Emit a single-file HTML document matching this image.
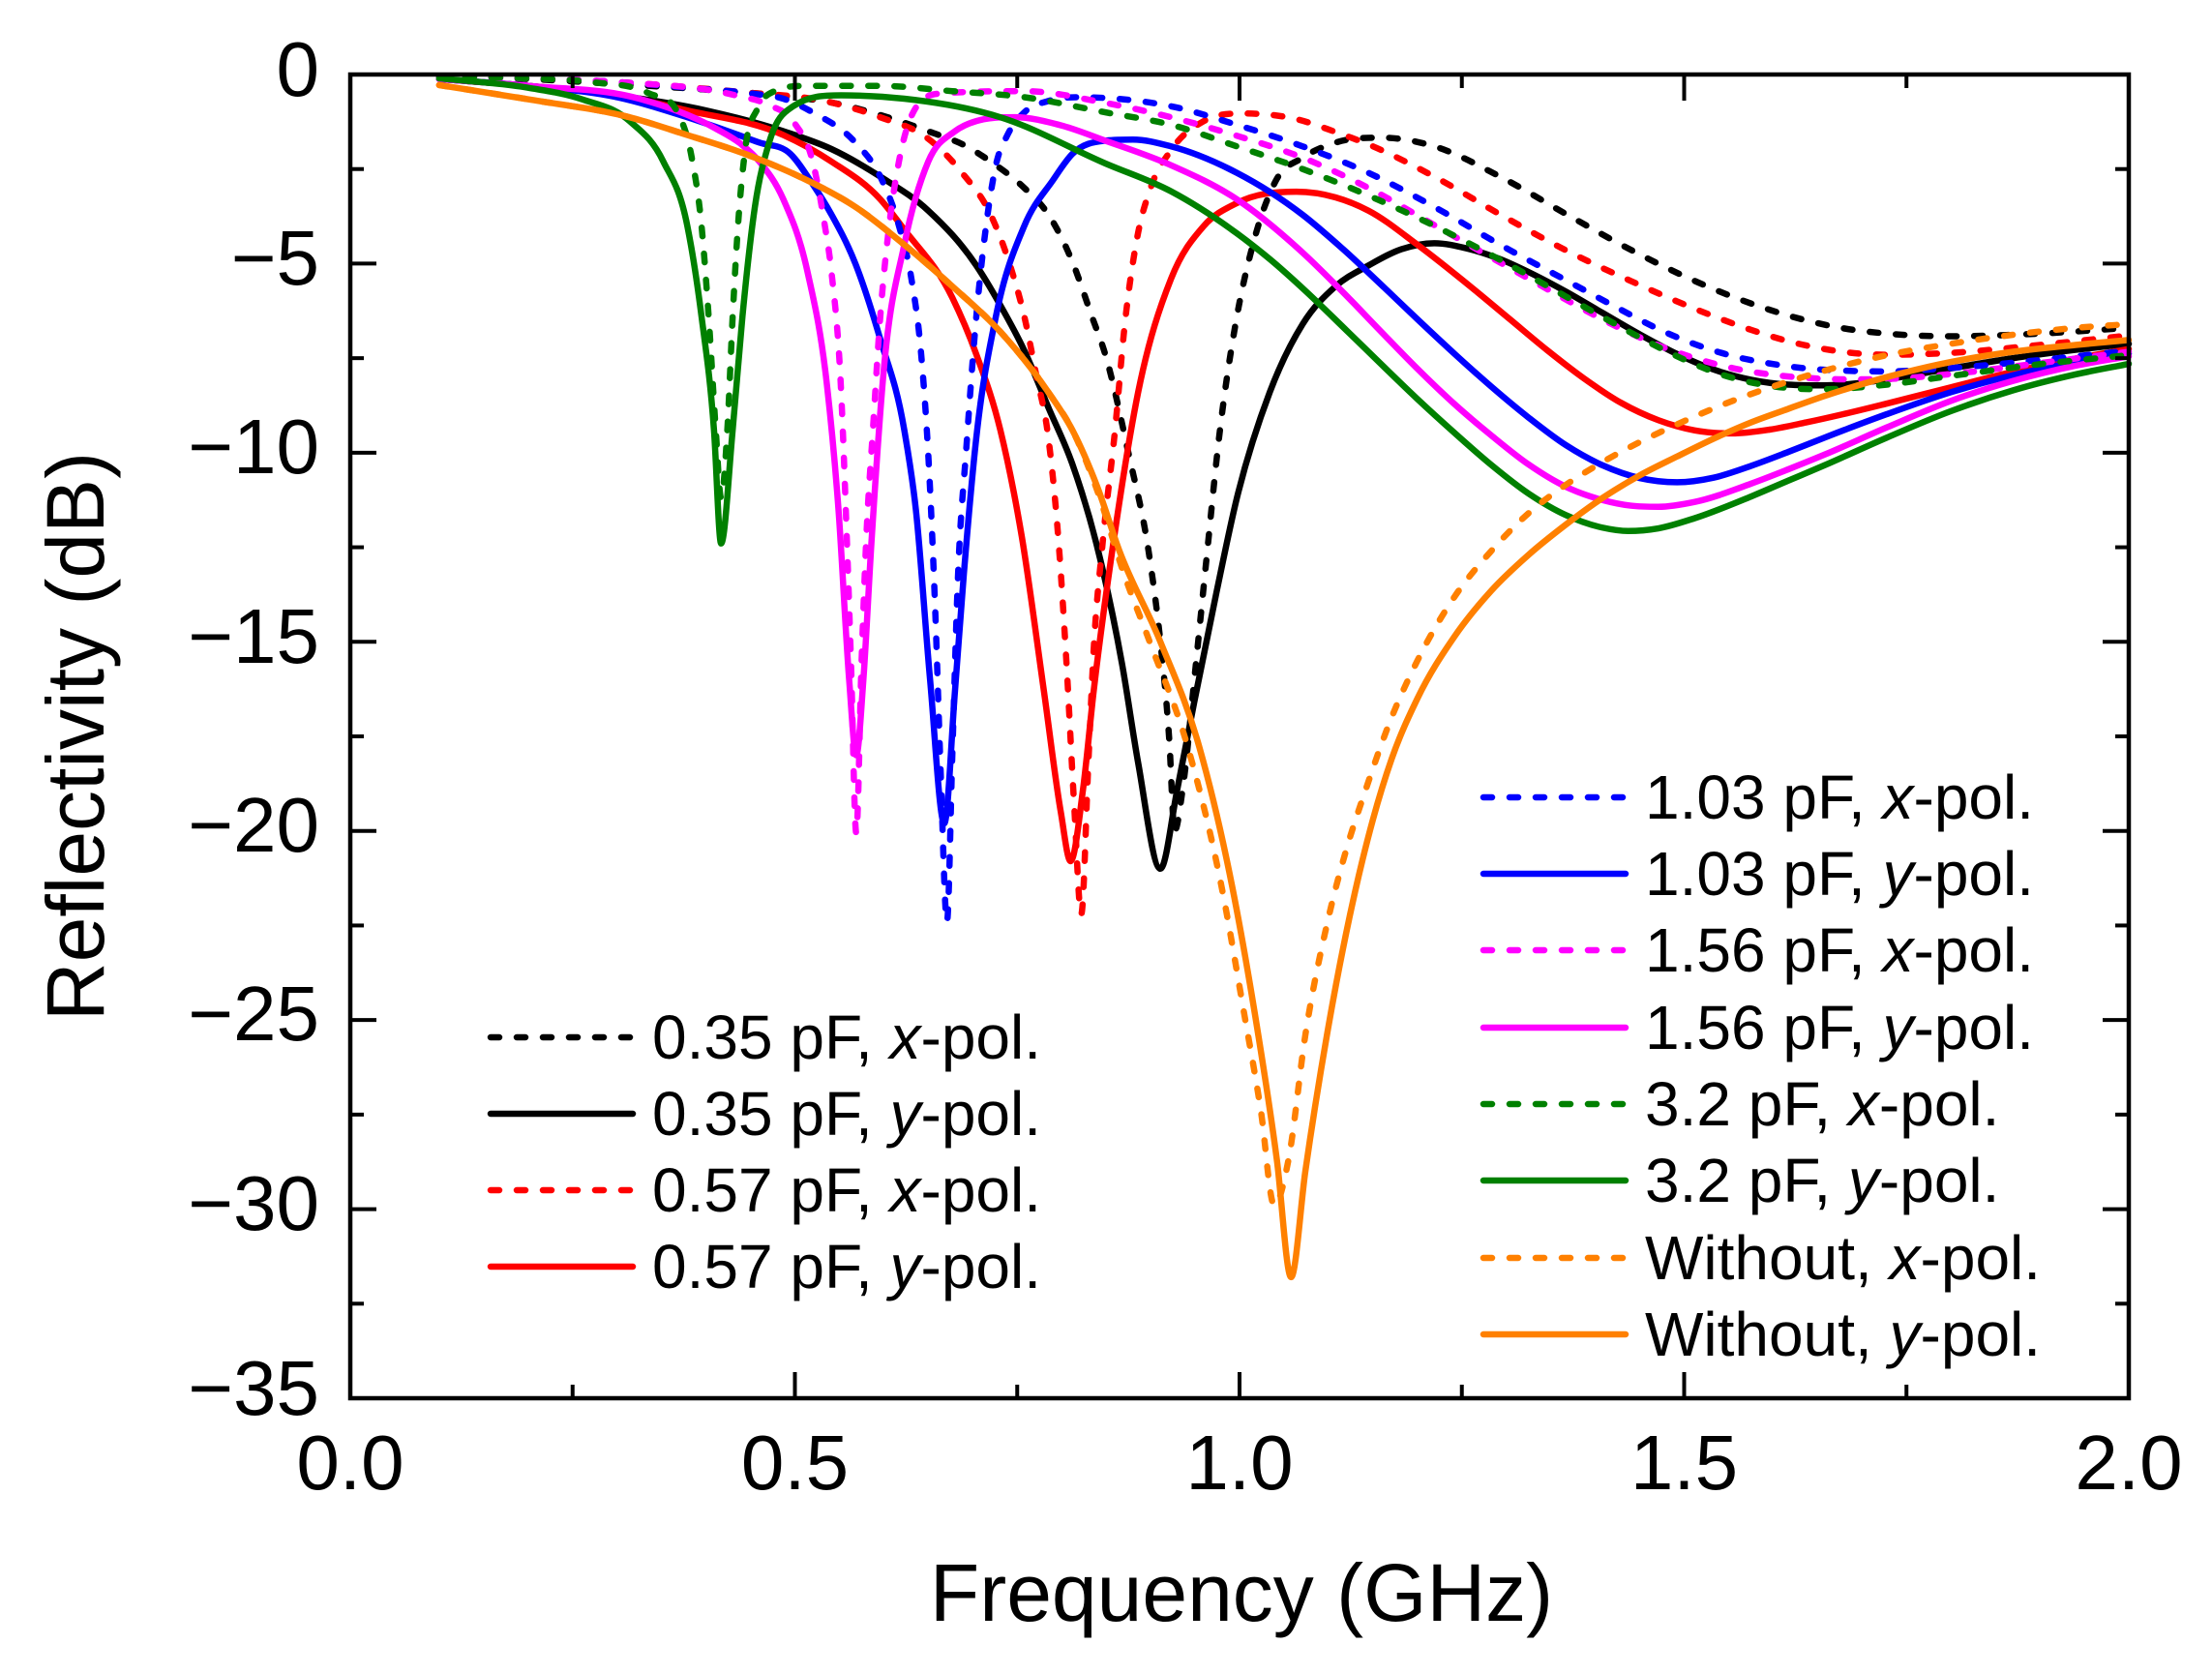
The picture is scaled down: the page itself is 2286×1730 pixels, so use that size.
<!DOCTYPE html>
<html>
<head>
<meta charset="utf-8">
<style>
  html, body { margin: 0; padding: 0; background: #ffffff; }
  svg { display: block; }
  text { font-family: "Liberation Sans", Arial, sans-serif; fill: #000; }
</style>
</head>
<body>
<svg id="chart" xmlns="http://www.w3.org/2000/svg" width="2286" height="1730" viewBox="0 0 2286 1730">
  <rect x="0" y="0" width="2286" height="1730" fill="#ffffff"/>
  <g id="curves" fill="none" stroke-linejoin="round"></g>

  <!-- frame -->
  <rect x="362" y="77" width="1838" height="1368" fill="none" stroke="#000" stroke-width="4.5"/>

  <!-- ticks -->
  <g stroke="#000" stroke-width="4" id="ticks"></g>

  <!-- y tick labels -->
  <g font-size="80" text-anchor="end">
    <text x="330" y="99">0</text>
    <text x="330" y="294">−5</text>
    <text x="330" y="489">−10</text>
    <text x="330" y="685">−15</text>
    <text x="330" y="880">−20</text>
    <text x="330" y="1075">−25</text>
    <text x="330" y="1271">−30</text>
    <text x="330" y="1462">−35</text>
  </g>

  <!-- x tick labels -->
  <g font-size="80" text-anchor="middle">
    <text x="362" y="1539">0.0</text>
    <text x="821.5" y="1539">0.5</text>
    <text x="1281" y="1539">1.0</text>
    <text x="1740.5" y="1539">1.5</text>
    <text x="2200" y="1539">2.0</text>
  </g>

  <!-- axis titles -->
  <text x="1283" y="1675" font-size="84" text-anchor="middle">Frequency (GHz)</text>
  <text transform="translate(107,761) rotate(-90)" font-size="84" text-anchor="middle">Reflectivity (dB)</text>

  <!-- left legend -->
  <g stroke-width="6.5" stroke-linecap="round" fill="none">
    <line x1="507" y1="1072" x2="654" y2="1072" stroke="#000000" stroke-dasharray="9 18"/>
    <line x1="507" y1="1151" x2="654" y2="1151" stroke="#000000"/>
    <line x1="507" y1="1230" x2="654" y2="1230" stroke="#ff0000" stroke-dasharray="9 18"/>
    <line x1="507" y1="1309" x2="654" y2="1309" stroke="#ff0000"/>
  </g>
  <g font-size="64">
    <text x="674" y="1094">0.35 pF, <tspan font-style="italic">x</tspan>-pol.</text>
    <text x="674" y="1173">0.35 pF, <tspan font-style="italic">y</tspan>-pol.</text>
    <text x="674" y="1252">0.57 pF, <tspan font-style="italic">x</tspan>-pol.</text>
    <text x="674" y="1331">0.57 pF, <tspan font-style="italic">y</tspan>-pol.</text>
  </g>

  <!-- right legend -->
  <g stroke-width="6.5" stroke-linecap="round" fill="none">
    <line x1="1533" y1="824" x2="1680" y2="824" stroke="#0000ff" stroke-dasharray="9 18"/>
    <line x1="1533" y1="903" x2="1680" y2="903" stroke="#0000ff"/>
    <line x1="1533" y1="982" x2="1680" y2="982" stroke="#ff00ff" stroke-dasharray="9 18"/>
    <line x1="1533" y1="1062" x2="1680" y2="1062" stroke="#ff00ff"/>
    <line x1="1533" y1="1141" x2="1680" y2="1141" stroke="#008000" stroke-dasharray="9 18"/>
    <line x1="1533" y1="1220" x2="1680" y2="1220" stroke="#008000"/>
    <line x1="1533" y1="1300" x2="1680" y2="1300" stroke="#ff8000" stroke-dasharray="9 18"/>
    <line x1="1533" y1="1379" x2="1680" y2="1379" stroke="#ff8000"/>
  </g>
  <g font-size="64">
    <text x="1700" y="846">1.03 pF, <tspan font-style="italic">x</tspan>-pol.</text>
    <text x="1700" y="925">1.03 pF, <tspan font-style="italic">y</tspan>-pol.</text>
    <text x="1700" y="1004">1.56 pF, <tspan font-style="italic">x</tspan>-pol.</text>
    <text x="1700" y="1084">1.56 pF, <tspan font-style="italic">y</tspan>-pol.</text>
    <text x="1700" y="1163">3.2 pF, <tspan font-style="italic">x</tspan>-pol.</text>
    <text x="1700" y="1242">3.2 pF, <tspan font-style="italic">y</tspan>-pol.</text>
    <text x="1700" y="1322">Without, <tspan font-style="italic">x</tspan>-pol.</text>
    <text x="1700" y="1401">Without, <tspan font-style="italic">y</tspan>-pol.</text>
  </g>
</svg>

<script>
(function(){
  var NS = "http://www.w3.org/2000/svg";
  function X(f){ return 362 + f*919; }
  function Y(d){ return 77 - d*39.086; }

  // ticks
  var tg = document.getElementById('ticks');
  function ln(x1,y1,x2,y2){
    var l = document.createElementNS(NS,'line');
    l.setAttribute('x1',x1); l.setAttribute('y1',y1);
    l.setAttribute('x2',x2); l.setAttribute('y2',y2);
    tg.appendChild(l);
  }
  for (var i=1;i<8;i++){
    var f = i*0.25, x = X(f), L = (i%2===0)?27:14;
    ln(x,1445,x,1445-L); ln(x,77,x,77+L);
  }
  for (var j=1;j<14;j++){
    var d = -j*2.5, y = Y(d), L2 = (j%2===0)?27:14;
    ln(362,y,362+L2,y); ln(2200,y,2200-L2,y);
  }

  var curves = [
    {c:'#000000', dash:true, p:[[0.1,-0.05],[0.2,-0.12],[0.3,-0.25],[0.4,-0.4],[0.5,-0.6],[0.541,-0.74],[0.6,-1.1],[0.65,-1.5],[0.693,-1.9],[0.72,-2.3],[0.758,-3.0],[0.785,-3.7],[0.812,-4.95],[0.834,-6.4],[0.849,-7.4],[0.875,-10],[0.899,-12.8],[0.911,-15],[0.921,-17.6],[0.927,-20.0],[0.936,-18.9],[0.95,-15.8],[0.962,-13],[0.978,-9.4],[0.997,-6.4],[1.015,-4.5],[1.041,-2.8],[1.071,-2.2],[1.108,-1.8],[1.16,-1.67],[1.219,-1.9],[1.293,-2.7],[1.368,-3.7],[1.442,-4.66],[1.516,-5.5],[1.554,-5.87],[1.596,-6.22],[1.637,-6.5],[1.679,-6.71],[1.728,-6.85],[1.8,-6.92],[1.9,-6.85],[2.0,-6.7]]},
    {c:'#000000', dash:false, p:[[0.1,-0.12],[0.2,-0.3],[0.3,-0.55],[0.4,-0.95],[0.487,-1.5],[0.541,-1.97],[0.596,-2.7],[0.65,-3.6],[0.704,-5.05],[0.731,-6.1],[0.758,-7.3],[0.785,-8.8],[0.812,-10.3],[0.839,-12.4],[0.868,-15.6],[0.886,-18.2],[0.911,-21.0],[0.93,-18.9],[0.949,-16.6],[0.974,-13.7],[0.997,-11.2],[1.034,-8.4],[1.071,-6.6],[1.108,-5.6],[1.145,-5.05],[1.182,-4.62],[1.219,-4.46],[1.256,-4.6],[1.293,-4.88],[1.33,-5.28],[1.367,-5.74],[1.408,-6.3],[1.45,-6.87],[1.492,-7.39],[1.533,-7.8],[1.575,-8.07],[1.617,-8.2],[1.658,-8.22],[1.7,-8.15],[1.728,-8.06],[1.8,-7.77],[1.87,-7.5],[1.94,-7.28],[2.0,-7.12]]},
    {c:'#ff0000', dash:true, p:[[0.1,-0.05],[0.2,-0.1],[0.3,-0.2],[0.433,-0.45],[0.541,-0.74],[0.596,-1.13],[0.65,-1.7],[0.688,-2.6],[0.72,-3.7],[0.742,-5.05],[0.758,-6.4],[0.771,-7.9],[0.785,-9.6],[0.796,-12.2],[0.805,-15.4],[0.814,-19.3],[0.822,-22.2],[0.83,-18.2],[0.836,-15.2],[0.846,-12.4],[0.86,-9.4],[0.871,-6.6],[0.885,-4.3],[0.9,-3.0],[0.923,-2.0],[0.96,-1.23],[1.004,-1.03],[1.064,-1.18],[1.108,-1.52],[1.145,-1.85],[1.219,-2.7],[1.293,-3.7],[1.368,-4.66],[1.442,-5.48],[1.492,-6.0],[1.533,-6.39],[1.575,-6.75],[1.617,-7.05],[1.658,-7.26],[1.728,-7.41],[1.8,-7.36],[1.9,-7.15],[2.0,-6.9]]},
    {c:'#ff0000', dash:false, p:[[0.1,-0.12],[0.2,-0.3],[0.3,-0.55],[0.379,-0.95],[0.487,-1.6],[0.541,-2.3],[0.596,-3.3],[0.623,-4.1],[0.677,-5.9],[0.704,-7.4],[0.731,-9.4],[0.755,-12.2],[0.78,-16.3],[0.799,-19.5],[0.81,-20.8],[0.824,-18.9],[0.836,-16.3],[0.858,-12.4],[0.886,-8.4],[0.923,-5.4],[0.96,-4.0],[0.997,-3.4],[1.064,-3.1],[1.108,-3.25],[1.145,-3.6],[1.2,-4.5],[1.262,-5.65],[1.304,-6.47],[1.346,-7.29],[1.387,-8.03],[1.429,-8.68],[1.471,-9.14],[1.512,-9.41],[1.554,-9.49],[1.596,-9.39],[1.637,-9.2],[1.679,-8.98],[1.728,-8.7],[1.8,-8.27],[1.87,-7.86],[1.94,-7.51],[2.0,-7.26]]},
    {c:'#0000ff', dash:true, p:[[0.1,-0.05],[0.2,-0.1],[0.3,-0.2],[0.379,-0.35],[0.45,-0.5],[0.487,-0.64],[0.52,-1.0],[0.568,-1.8],[0.596,-2.7],[0.617,-4.0],[0.631,-5.4],[0.642,-7.4],[0.651,-10.5],[0.658,-14.3],[0.664,-18.5],[0.671,-22.4],[0.677,-18.0],[0.683,-13.5],[0.693,-9.8],[0.704,-6.4],[0.715,-4.0],[0.726,-2.4],[0.739,-1.6],[0.758,-1.0],[0.785,-0.7],[0.82,-0.6],[0.849,-0.62],[0.923,-0.84],[0.997,-1.33],[1.071,-1.9],[1.145,-2.6],[1.219,-3.5],[1.293,-4.5],[1.368,-5.45],[1.429,-6.22],[1.471,-6.73],[1.512,-7.13],[1.554,-7.44],[1.596,-7.64],[1.637,-7.77],[1.679,-7.83],[1.728,-7.85],[1.8,-7.76],[1.9,-7.55],[2.0,-7.3]]},
    {c:'#0000ff', dash:false, p:[[0.1,-0.12],[0.2,-0.3],[0.3,-0.6],[0.379,-1.13],[0.46,-1.8],[0.495,-2.1],[0.52,-2.9],[0.541,-3.7],[0.568,-5.0],[0.596,-7.0],[0.623,-9.4],[0.636,-11.5],[0.652,-16.0],[0.668,-19.8],[0.68,-16.3],[0.69,-13.2],[0.704,-9.6],[0.726,-6.4],[0.758,-4.0],[0.79,-2.8],[0.812,-2.1],[0.849,-1.75],[0.88,-1.72],[0.923,-1.9],[0.997,-2.6],[1.071,-3.71],[1.117,-4.63],[1.163,-5.64],[1.2,-6.47],[1.242,-7.39],[1.283,-8.25],[1.325,-9.07],[1.367,-9.8],[1.408,-10.33],[1.45,-10.67],[1.492,-10.78],[1.533,-10.66],[1.575,-10.35],[1.617,-9.98],[1.658,-9.6],[1.728,-8.98],[1.8,-8.4],[1.87,-7.95],[1.94,-7.6],[2.0,-7.38]]},
    {c:'#ff00ff', dash:true, p:[[0.1,-0.05],[0.2,-0.1],[0.3,-0.2],[0.433,-0.55],[0.47,-0.8],[0.5,-1.3],[0.52,-2.3],[0.533,-3.9],[0.541,-5.2],[0.552,-8.4],[0.558,-12.0],[0.563,-15.5],[0.569,-20.06],[0.575,-15.5],[0.58,-12.4],[0.588,-9.3],[0.596,-6.4],[0.606,-4.0],[0.617,-2.3],[0.633,-1.0],[0.666,-0.5],[0.758,-0.44],[0.849,-0.75],[0.923,-1.13],[0.997,-1.62],[1.071,-2.2],[1.145,-3.0],[1.219,-3.98],[1.293,-4.97],[1.345,-5.66],[1.387,-6.21],[1.429,-6.72],[1.471,-7.16],[1.512,-7.5],[1.554,-7.76],[1.596,-7.93],[1.637,-8.02],[1.679,-8.06],[1.728,-8.05],[1.8,-7.92],[1.9,-7.63],[2.0,-7.33]]},
    {c:'#ff00ff', dash:false, p:[[0.1,-0.12],[0.2,-0.3],[0.325,-0.64],[0.411,-1.43],[0.44,-1.85],[0.46,-2.3],[0.487,-3.3],[0.514,-5.2],[0.536,-8.2],[0.549,-11.5],[0.561,-16.0],[0.569,-18.0],[0.577,-16.0],[0.586,-12.4],[0.6,-7.8],[0.623,-4.5],[0.65,-2.3],[0.68,-1.5],[0.704,-1.23],[0.747,-1.13],[0.8,-1.35],[0.849,-1.75],[0.923,-2.4],[0.997,-3.3],[1.071,-4.71],[1.117,-5.77],[1.158,-6.77],[1.2,-7.78],[1.242,-8.72],[1.283,-9.54],[1.325,-10.31],[1.367,-10.9],[1.408,-11.25],[1.44,-11.4],[1.471,-11.43],[1.512,-11.3],[1.575,-10.82],[1.617,-10.44],[1.658,-10.05],[1.728,-9.33],[1.8,-8.63],[1.87,-8.1],[1.94,-7.7],[2.0,-7.45]]},
    {c:'#008000', dash:true, p:[[0.1,-0.04],[0.2,-0.1],[0.271,-0.2],[0.336,-0.5],[0.368,-1.0],[0.384,-2.2],[0.395,-4.0],[0.403,-6.4],[0.411,-9.4],[0.417,-11.2],[0.424,-9.4],[0.43,-6.4],[0.436,-4.0],[0.444,-2.0],[0.458,-0.9],[0.476,-0.45],[0.514,-0.3],[0.596,-0.3],[0.677,-0.44],[0.758,-0.6],[0.849,-1.0],[0.923,-1.33],[0.997,-1.9],[1.071,-2.5],[1.145,-3.2],[1.219,-4.0],[1.293,-4.9],[1.33,-5.38],[1.367,-5.87],[1.408,-6.41],[1.45,-6.95],[1.492,-7.45],[1.533,-7.86],[1.575,-8.14],[1.617,-8.29],[1.658,-8.32],[1.728,-8.2],[1.8,-7.97],[1.9,-7.66],[2.0,-7.42]]},
    {c:'#008000', dash:false, p:[[0.1,-0.1],[0.2,-0.35],[0.26,-0.65],[0.314,-1.23],[0.352,-2.3],[0.379,-4.0],[0.395,-6.4],[0.409,-9.4],[0.417,-12.4],[0.43,-9.4],[0.441,-6.4],[0.455,-3.5],[0.471,-1.8],[0.498,-0.84],[0.552,-0.55],[0.623,-0.64],[0.731,-1.13],[0.849,-2.35],[0.923,-3.09],[0.997,-4.2],[1.035,-4.9],[1.075,-5.74],[1.117,-6.69],[1.158,-7.63],[1.2,-8.58],[1.242,-9.48],[1.283,-10.32],[1.325,-11.08],[1.367,-11.65],[1.408,-11.98],[1.437,-12.07],[1.471,-12.0],[1.512,-11.73],[1.575,-11.16],[1.617,-10.74],[1.658,-10.33],[1.728,-9.6],[1.8,-8.9],[1.87,-8.35],[1.94,-7.93],[2.0,-7.65]]},
    {c:'#ff8000', dash:true, p:[[0.1,-0.28],[0.204,-0.67],[0.314,-1.13],[0.379,-1.6],[0.444,-2.1],[0.514,-2.8],[0.568,-3.5],[0.623,-4.5],[0.677,-5.6],[0.731,-6.8],[0.785,-8.4],[0.812,-9.4],[0.84,-11.0],[0.87,-13.2],[0.899,-15],[0.942,-17.8],[0.98,-21.5],[1.005,-24.8],[1.024,-27.4],[1.039,-29.9],[1.055,-28.7],[1.074,-25.4],[1.099,-22.4],[1.12,-20.5],[1.142,-18.9],[1.171,-17.0],[1.2,-15.5],[1.242,-13.8],[1.283,-12.6],[1.325,-11.6],[1.367,-10.85],[1.408,-10.25],[1.45,-9.72],[1.492,-9.25],[1.533,-8.83],[1.575,-8.45],[1.617,-8.12],[1.658,-7.83],[1.728,-7.42],[1.8,-7.12],[1.87,-6.88],[1.94,-6.7],[2.0,-6.6]]},
    {c:'#ff8000', dash:false, p:[[0.1,-0.28],[0.204,-0.67],[0.314,-1.13],[0.379,-1.6],[0.444,-2.1],[0.514,-2.8],[0.568,-3.5],[0.623,-4.5],[0.677,-5.6],[0.731,-6.8],[0.785,-8.4],[0.812,-9.4],[0.84,-10.9],[0.865,-12.6],[0.911,-15],[0.955,-17.8],[0.992,-21.5],[1.017,-24.8],[1.042,-28.7],[1.058,-31.8],[1.074,-29.0],[1.099,-25.3],[1.13,-21.6],[1.15,-19.7],[1.171,-18.1],[1.2,-16.5],[1.242,-14.85],[1.283,-13.65],[1.325,-12.7],[1.367,-11.9],[1.408,-11.2],[1.45,-10.6],[1.492,-10.1],[1.533,-9.63],[1.575,-9.2],[1.617,-8.84],[1.658,-8.5],[1.728,-8.0],[1.8,-7.6],[1.87,-7.33],[1.94,-7.15],[2.0,-7.02]]}
  ];

  function spline(pts){
    var n = pts.length, h=[], d=[], m=[];
    for (var i=0;i<n-1;i++){
      h[i] = pts[i+1][0]-pts[i][0];
      d[i] = (pts[i+1][1]-pts[i][1])/h[i];
    }
    m[0] = d[0]; m[n-1] = d[n-2];
    for (var k=1;k<n-1;k++){
      if (d[k-1]*d[k] <= 0) { m[k] = 0; }
      else {
        var b = (h[k]*d[k-1] + h[k-1]*d[k])/(h[k-1]+h[k]);
        var lim = 3*Math.min(Math.abs(d[k-1]),Math.abs(d[k]));
        if (Math.abs(b) > lim) b = (b>0?1:-1)*lim;
        m[k] = b;
      }
    }
    var s = 'M' + X(pts[0][0]).toFixed(2) + ',' + Y(pts[0][1]).toFixed(2);
    for (var q=0;q<n-1;q++){
      var x0=pts[q][0], y0=pts[q][1], x1=pts[q+1][0], y1=pts[q+1][1], hh=h[q];
      var c1x = x0+hh/3, c1y = y0+m[q]*hh/3;
      var c2x = x1-hh/3, c2y = y1-m[q+1]*hh/3;
      s += ' C' + X(c1x).toFixed(2)+','+Y(c1y).toFixed(2)+' '+X(c2x).toFixed(2)+','+Y(c2y).toFixed(2)+' '+X(x1).toFixed(2)+','+Y(y1).toFixed(2);
    }
    return s;
  }

  var g = document.getElementById('curves');
  curves.forEach(function(cv){
    var p = document.createElementNS(NS,'path');
    p.setAttribute('d', spline(cv.p));
    p.setAttribute('stroke', cv.c);
    p.setAttribute('stroke-width', '6.5');
    p.setAttribute('fill', 'none');
    p.setAttribute('stroke-linecap','round');
    if (cv.dash){
      p.setAttribute('stroke-dasharray','9 18');
    }
    g.appendChild(p);
  });
})();
</script>
</body>
</html>
